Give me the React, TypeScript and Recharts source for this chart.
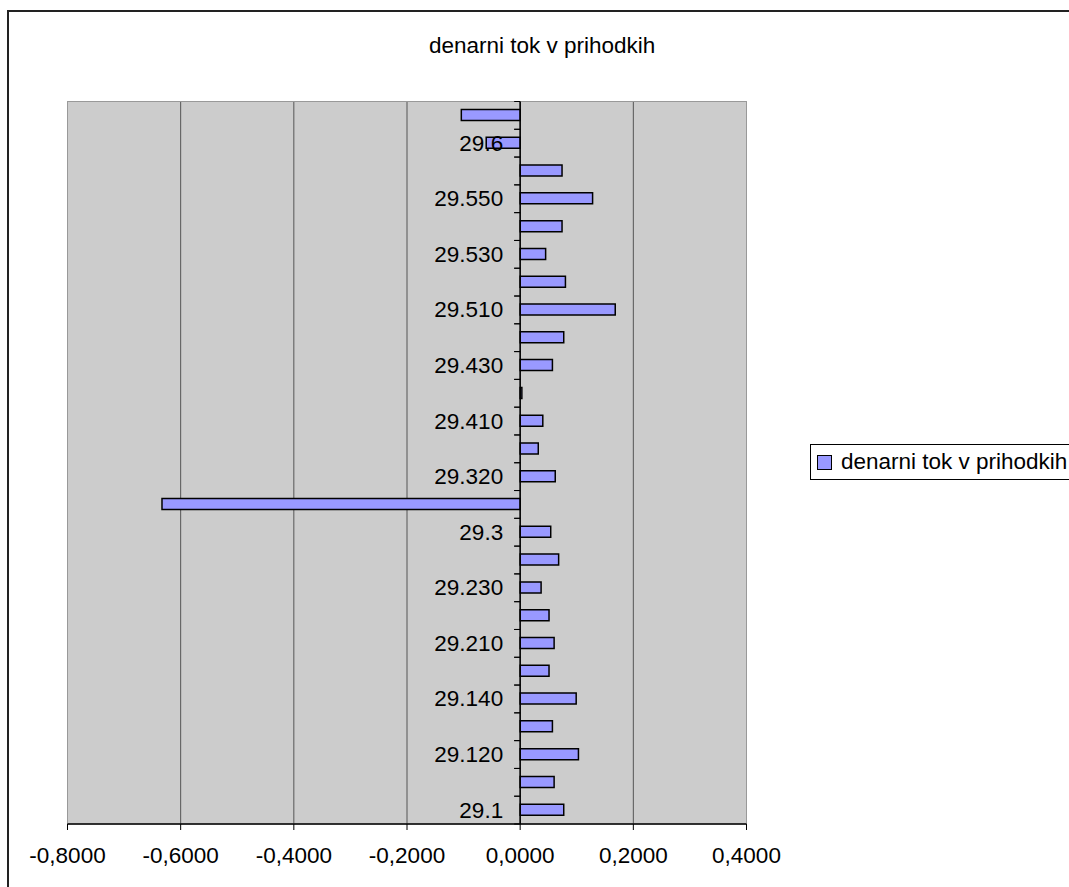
import React from 'react';
import {
  BarChart,
  Bar,
  XAxis,
  YAxis,
  CartesianGrid,
  ReferenceLine,
  ReferenceArea,
  Legend,
} from 'recharts';

// ---- data (index 0 = bottom category) ----
const categories = [
  '29.1', '29.110', '29.120', '29.130', '29.140', '29.150', '29.210', '29.220',
  '29.230', '29.240', '29.3', '29.310', '29.320', '29.330', '29.410', '29.420',
  '29.430', '29.440', '29.510', '29.520', '29.530', '29.540', '29.550', '29.560',
  '29.6', '29.610',
];
const values = [
  0.077, 0.06, 0.103, 0.057, 0.099, 0.051, 0.06, 0.051,
  0.037, 0.068, 0.054, -0.633, 0.062, 0.032, 0.04, 0.003,
  0.057, 0.077, 0.168, 0.08, 0.045, 0.074, 0.128, 0.074,
  -0.06, -0.104,
];
const tickLabels = [
  '29.1', '29.120', '29.140', '29.210', '29.230', '29.3', '29.320',
  '29.410', '29.430', '29.510', '29.530', '29.550', '29.6',
];
const xTicks = [-0.8, -0.6, -0.4, -0.2, 0, 0.2, 0.4];
const seriesName = 'denarni tok v prihodkih';
const title = 'denarni tok v prihodkih';

const data = categories.map((name, i) => ({ name, value: values[i] }));

// ---- layout ----
const W = 1069;
const H = 887;
const PLOT_LEFT = 67.5;
const PLOT_RIGHT = 746.5;
const PLOT_TOP = 101.5;
const PLOT_BOTTOM = 824;
const Y_AXIS_W = 1;
const X_MIN = -0.8;
const X_MAX = 0.4;
const ZERO_X = PLOT_LEFT + ((PLOT_RIGHT - PLOT_LEFT) * (0 - X_MIN)) / (X_MAX - X_MIN);
const BAND = (PLOT_BOTTOM - PLOT_TOP) / categories.length;
const FONT = '"Liberation Sans", Arial, sans-serif';
const FS = 22.5;

const fmt = (v: number) => v.toFixed(4).replace('.', ',');

const renderYTick = (props: any) => {
  const { y, payload } = props;
  const show = tickLabels.includes(payload.value);
  return (
    <g key={`yt-${payload.value}`}>
      <line x1={ZERO_X - 6} x2={ZERO_X} y1={y - BAND / 2} y2={y - BAND / 2} stroke="#000" strokeWidth={1} />
      <line x1={ZERO_X - 6} x2={ZERO_X} y1={y + BAND / 2} y2={y + BAND / 2} stroke="#000" strokeWidth={1} />
      {show && (
        <text
          x={ZERO_X - 17}
          y={y}
          textAnchor="end"
          dominantBaseline="central"
          fontSize={FS}
          fontFamily={FONT}
          fill="#000"
        >
          {payload.value}
        </text>
      )}
    </g>
  );
};

const LegendBox = () => (
  <div
    style={{
      width: 290,
      height: 36,
      boxSizing: 'border-box',
      border: '1px solid #000',
      background: '#fff',
      display: 'flex',
      alignItems: 'center',
      paddingLeft: 6,
      whiteSpace: 'nowrap',
      fontFamily: FONT,
      fontSize: FS,
      color: '#000',
    }}
  >
    <span
      style={{
        display: 'inline-block',
        width: 13,
        height: 13,
        background: '#9999FF',
        border: '1px solid #000',
        marginRight: 9,
      }}
    />
    <span>{seriesName}</span>
  </div>
);

export default function App() {
  return (
    <div
      style={{
        position: 'absolute',
        left: 0,
        top: 0,
        width: W,
        height: H,
        overflow: 'hidden',
        background: '#fff',
        fontFamily: FONT,
      }}
    >
      <div
        style={{
          position: 'absolute',
          left: 7,
          top: 10,
          width: 1200,
          height: 1000,
          border: '2px solid #222',
          boxSizing: 'border-box',
        }}
      />
      <div
        style={{
          position: 'absolute',
          left: 429,
          top: 35,
          fontSize: FS,
          lineHeight: `${FS}px`,
          whiteSpace: 'nowrap',
          color: '#000',
          fontFamily: FONT,
        }}
      >
        {title}
      </div>
      <div style={{ position: 'absolute', left: 0, top: 0 }}>
        <BarChart
          width={W}
          height={H}
          data={data}
          layout="vertical"
          margin={{ top: PLOT_TOP, left: PLOT_LEFT - Y_AXIS_W, right: W - PLOT_RIGHT, bottom: 0 }}
          barSize={11}
        >
          <CartesianGrid
            horizontal={false}
            vertical={true}
            stroke="#555"
            strokeWidth={1}
            fill="#CCCCCC"
            fillOpacity={1}
          />
          <ReferenceArea
            x1={X_MIN}
            x2={X_MAX}
            fill="#CCCCCC"
            fillOpacity={0}
            stroke="#999"
            strokeWidth={1}
            ifOverflow="visible"
          />
          <XAxis
            type="number"
            domain={[X_MIN, X_MAX]}
            ticks={xTicks}
            tickFormatter={fmt}
            allowDataOverflow
            height={H - PLOT_BOTTOM}
            axisLine={{ stroke: '#000', strokeWidth: 1.5 }}
            tickLine={{ stroke: '#000', strokeWidth: 1 }}
            tickSize={6}
            tickMargin={17}
            tick={{ fontSize: FS, fill: '#000', fontFamily: FONT }}
            interval={0}
          />
          <YAxis
            type="category"
            dataKey="name"
            reversed
            width={Y_AXIS_W}
            interval={0}
            axisLine={false}
            tickLine={false}
            tick={renderYTick}
          />
          <Bar
            dataKey="value"
            name={seriesName}
            fill="#9999FF"
            stroke="#000"
            strokeWidth={1.5}
            isAnimationActive={false}
          />
          <ReferenceLine x={0} stroke="#000" strokeWidth={1.5} ifOverflow="visible" />
          <Legend
            layout="horizontal"
            align="center"
            verticalAlign="middle"
            wrapperStyle={{ left: 810, top: 444, width: 290 }}
            content={<LegendBox />}
          />
        </BarChart>
      </div>
    </div>
  );
}
